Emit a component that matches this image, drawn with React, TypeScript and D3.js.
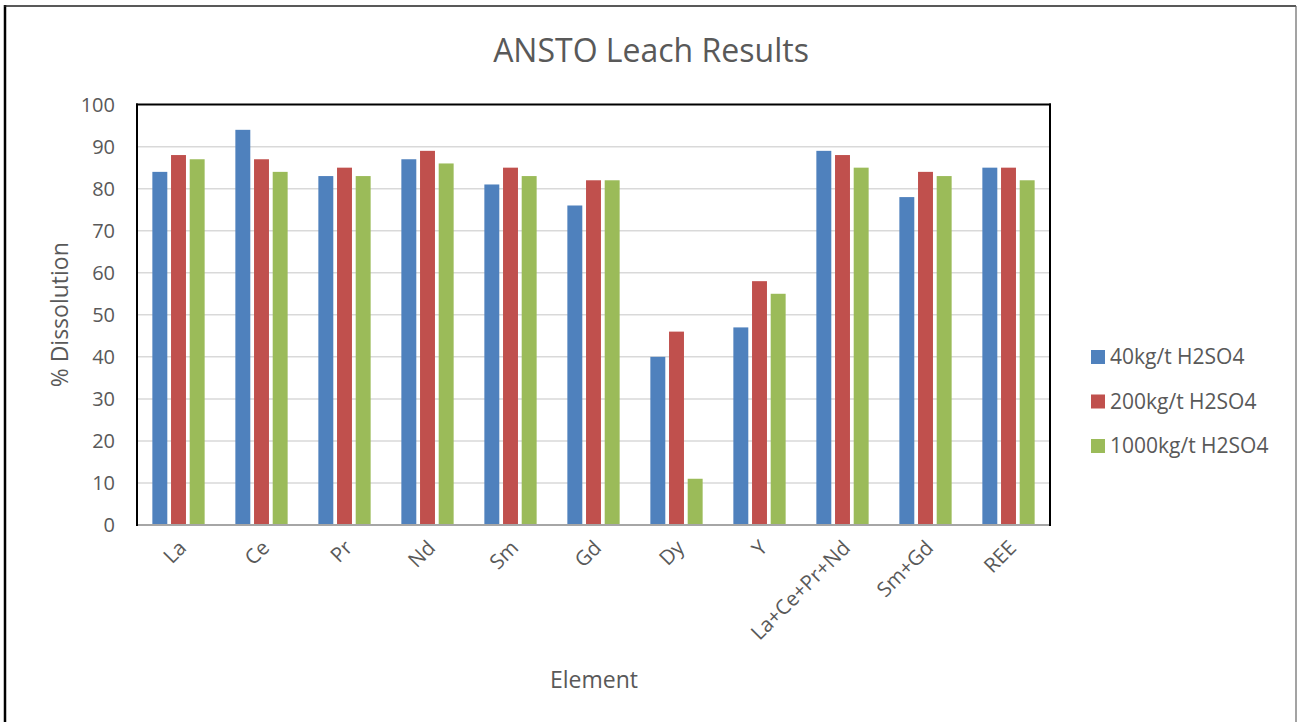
import React, { useEffect, useRef } from 'react'
import * as d3 from 'd3'

const categories = ['La', 'Ce', 'Pr', 'Nd', 'Sm', 'Gd', 'Dy', 'Y', 'La+Ce+Pr+Nd', 'Sm+Gd', 'REE']
const seriesNames = ['40kg/t H2SO4', '200kg/t H2SO4', '1000kg/t H2SO4']
const acid40 = [84, 94, 83, 87, 81, 76, 40, 47, 89, 78, 85]
const acid200 = [88, 87, 85, 89, 85, 82, 46, 58, 88, 84, 85]
const acid1000 = [87, 84, 83, 86, 83, 82, 11, 55, 85, 83, 82]
const yTicks = [0, 10, 20, 30, 40, 50, 60, 70, 80, 90, 100]
const colors = ['#4F81BD', '#C0504D', '#9BBB59']

const W = 1297
const H = 722
const FONT = '"Open Sans", "Liberation Sans", sans-serif'
const TEXT = '#595959'

export default function App() {
  const ref = useRef<SVGSVGElement>(null)

  useEffect(() => {
    document.body.style.margin = '0'
    const svg = d3.select(ref.current)
    svg.selectAll('*').remove()

    const left = 137, top = 104.6, right = 1050, bottom = 525
    const values = [acid40, acid200, acid1000]

    // outer chart frame
    svg.append('rect').attr('width', W).attr('height', H).attr('fill', '#fff')
    svg.append('line').attr('x1', 5).attr('x2', 5).attr('y1', 5).attr('y2', H).attr('stroke', '#000').attr('stroke-width', 2.5)
    svg.append('line').attr('x1', 4).attr('x2', 1296).attr('y1', 6).attr('y2', 6).attr('stroke', '#222').attr('stroke-width', 1.5)
    svg.append('line').attr('x1', 1296).attr('x2', 1296).attr('y1', 6).attr('y2', H).attr('stroke', '#666').attr('stroke-width', 1.2)

    const x = d3.scaleBand().domain(categories).range([left, right]).paddingInner(0.37).paddingOuter(0.185)
    const xs = d3.scaleBand<number>().domain([0, 1, 2]).range([0, x.bandwidth()]).paddingInner(0.2)
    const y = d3.scaleLinear().domain([0, 100]).range([bottom, top])

    // gridlines
    svg.append('g')
      .selectAll('line')
      .data(yTicks.filter(t => t > 0 && t < 100))
      .join('line')
      .attr('x1', left).attr('x2', right)
      .attr('y1', d => y(d)).attr('y2', d => y(d))
      .attr('stroke', '#D9D9D9').attr('stroke-width', 1.5)

    // bars
    const g = svg.append('g')
    values.forEach((vals, si) => {
      g.append('g')
        .selectAll('rect')
        .data(vals)
        .join('rect')
        .attr('x', (_, i) => (x(categories[i]) as number) + (xs(si) as number))
        .attr('y', d => y(d))
        .attr('width', xs.bandwidth())
        .attr('height', d => y(0) - y(d))
        .attr('fill', colors[si])
    })

    // plot area frame
    svg.append('line').attr('x1', left).attr('x2', right).attr('y1', bottom).attr('y2', bottom).attr('stroke', '#A6A6A6').attr('stroke-width', 2)
    svg.append('line').attr('x1', left).attr('x2', left).attr('y1', top - 1).attr('y2', bottom + 1).attr('stroke', '#000').attr('stroke-width', 2)
    svg.append('line').attr('x1', left - 1).attr('x2', right + 1).attr('y1', top).attr('y2', top).attr('stroke', '#000').attr('stroke-width', 2)
    svg.append('line').attr('x1', right).attr('x2', right).attr('y1', top - 1).attr('y2', bottom + 1).attr('stroke', '#000').attr('stroke-width', 2)

    // y tick labels
    svg.append('g')
      .selectAll('text')
      .data(yTicks)
      .join('text')
      .attr('x', 115)
      .attr('y', d => y(d))
      .attr('dy', '0.35em')
      .attr('text-anchor', 'end')
      .attr('font-family', FONT)
      .attr('font-size', 20)
      .attr('fill', TEXT)
      .text(d => d)

    // x tick labels
    svg.append('g')
      .selectAll('text')
      .data(categories)
      .join('text')
      .attr('transform', d => `translate(${(x(d) as number) + x.bandwidth() / 2 + 4},${544}) rotate(-45)`)
      .attr('text-anchor', 'end')
      .attr('dy', '0.35em')
      .attr('font-family', FONT)
      .attr('font-size', 20.5)
      .attr('fill', TEXT)
      .text(d => d)

    // titles
    svg.append('text')
      .attr('x', 651).attr('y', 62)
      .attr('text-anchor', 'middle')
      .attr('font-family', FONT)
      .attr('font-size', 32)
      .attr('fill', TEXT)
      .text('ANSTO Leach Results')

    svg.append('text')
      .attr('transform', `translate(68,${(top + bottom) / 2}) rotate(-90)`)
      .attr('text-anchor', 'middle')
      .attr('font-family', FONT)
      .attr('font-size', 23)
      .attr('fill', TEXT)
      .text('% Dissolution')

    svg.append('text')
      .attr('x', 594).attr('y', 688)
      .attr('text-anchor', 'middle')
      .attr('font-family', FONT)
      .attr('font-size', 23)
      .attr('fill', TEXT)
      .text('Element')

    // legend
    const legend = svg.append('g').attr('transform', 'translate(1091,350)')
    seriesNames.forEach((name, i) => {
      const row = legend.append('g').attr('transform', `translate(0,${i * 44.5})`)
      row.append('rect').attr('width', 14).attr('height', 14).attr('fill', colors[i])
      row.append('text')
        .attr('x', 19).attr('y', 7).attr('dy', '0.35em')
        .attr('font-family', FONT)
        .attr('font-size', 21)
        .attr('fill', TEXT)
        .text(name)
    })
  }, [])

  return <svg ref={ref} width={W} height={H} style={{ display: 'block' }} />
}
